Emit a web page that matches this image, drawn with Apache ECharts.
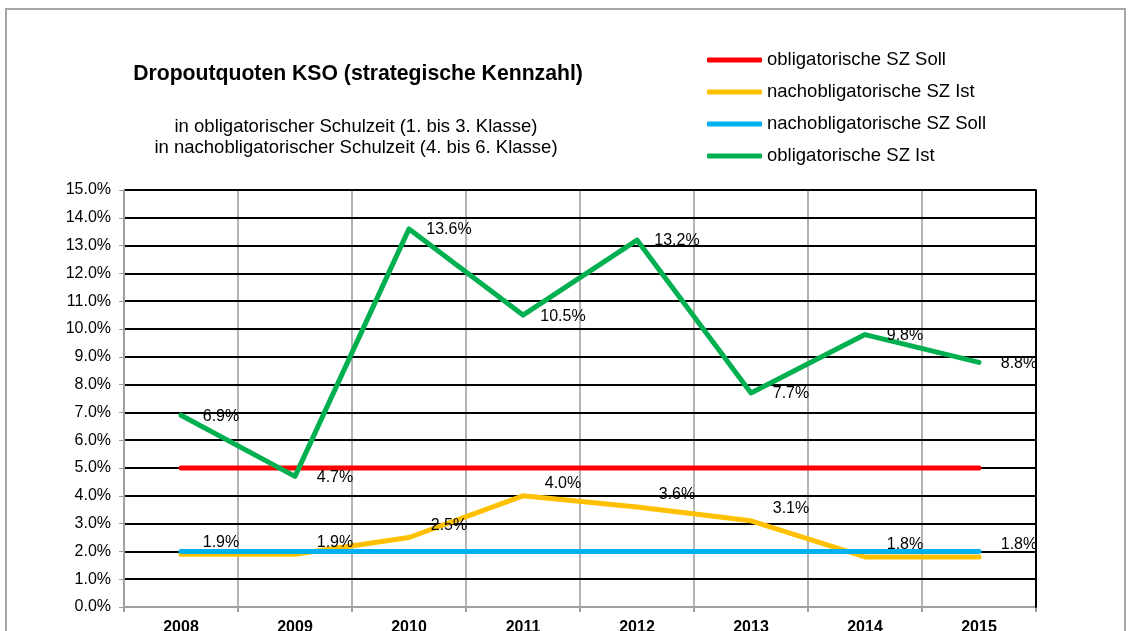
<!DOCTYPE html>
<html>
<head>
<meta charset="utf-8">
<script src="https://cdn.jsdelivr.net/npm/echarts@6/dist/echarts.min.js"></script>
<style>
html, body { margin: 0; padding: 0; background: #fff; }
#chart { width: 1129px; height: 631px; }
</style>
</head>
<body>
<div id="chart"></div>
<script>
// Daten (Prozent)
var years = ['2008', '2009', '2010', '2011', '2012', '2013', '2014', '2015'];
var oblSoll = [5.0, 5.0, 5.0, 5.0, 5.0, 5.0, 5.0, 5.0];
var nachoblIst = [1.9, 1.9, 2.5, 4.0, 3.6, 3.1, 1.8, 1.8];
var nachoblSoll = [2.0, 2.0, 2.0, 2.0, 2.0, 2.0, 2.0, 2.0];
var oblIst = [6.9, 4.7, 13.6, 10.5, 13.2, 7.7, 9.8, 8.8];

var font = '"Liberation Sans", Arial, sans-serif';
var myChart = echarts.init(document.getElementById('chart'));

function pct(v) { return v.toFixed(1) + '%'; }

function lineSeries(name, data, color, label)
{
    return {
        name: name,
        type: 'line',
        data: data,
        symbol: 'circle',
        symbolSize: 1,
        itemStyle: { color: color },
        lineStyle: { color: color, width: 5, cap: 'round', join: 'round' },
        label: label || { show: false },
        emphasis: { disabled: true },
        animation: false
    };
}

function dataLabel(offset)
{
    return {
        show: true, position: 'inside', offset: offset,
        fontFamily: font, fontSize: 16, color: '#000',
        formatter: function (p) { return pct(p.value); }
    };
}

var option = {
    backgroundColor: '#fff',
    graphic: [{
        type: 'rect',
        shape: { x: 6, y: 9, width: 1119, height: 700 },
        style: { fill: 'none', stroke: '#a6a6a6', lineWidth: 2 },
        silent: true
    }],
    title: [{
        text: 'Dropoutquoten KSO (strategische Kennzahl)',
        left: 353, top: 59, textAlign: 'center',
        textStyle: { fontFamily: font, fontSize: 21.2, fontWeight: 'bold', color: '#000' }
    }, {
        text: 'in obligatorischer Schulzeit (1. bis 3. Klasse)\nin nachobligatorischer Schulzeit (4. bis 6. Klasse)',
        left: 351, top: 111, textAlign: 'center',
        textStyle: { fontFamily: font, fontSize: 18.5, fontWeight: 'normal', color: '#000', lineHeight: 21 }
    }],
    legend: {
        orient: 'vertical',
        left: 702, top: 45,
        itemWidth: 55, itemHeight: 5,
        itemGap: 12,
        icon: 'roundRect',
        textStyle: { fontFamily: font, fontSize: 18.5, color: '#000', lineHeight: 20 },
        data: ['obligatorische SZ Soll', 'nachobligatorische SZ Ist', 'nachobligatorische SZ Soll', 'obligatorische SZ Ist']
    },
    grid: { left: 124, right: 93, top: 190, bottom: 24, outerBoundsMode: 'none', containLabel: false },
    xAxis: {
        type: 'category',
        data: years,
        boundaryGap: true,
        z: 1,
        axisLine: { lineStyle: { color: '#a0a0a0', width: 2 } },
        axisTick: { show: true, length: 5, lineStyle: { color: '#a0a0a0', width: 2 } },
        axisLabel: { fontFamily: font, fontSize: 16, fontWeight: 'bold', color: '#000', margin: 13 },
        splitLine: { show: true, lineStyle: { color: '#b4b4b4', width: 2 } }
    },
    yAxis: [{
        type: 'value',
        min: 0, max: 15, interval: 1,
        z: 2,
        axisLine: { show: true, lineStyle: { color: '#a0a0a0', width: 2 } },
        axisTick: { show: true, length: 5, lineStyle: { color: '#a0a0a0', width: 1 } },
        axisLabel: { fontFamily: font, fontSize: 16, color: '#000', margin: 13, formatter: pct },
        splitLine: { show: true, showMinLine: false, lineStyle: { color: '#000', width: 2 } }
    }, {
        type: 'value',
        position: 'right',
        min: 0, max: 15, interval: 1,
        z: 3,
        axisLine: { show: true, lineStyle: { color: '#000', width: 2 } },
        axisTick: { show: false },
        axisLabel: { show: false },
        splitLine: { show: false }
    }],
    series: [
        lineSeries('obligatorische SZ Soll', oblSoll, '#ff0000'),
        lineSeries('nachobligatorische SZ Ist', nachoblIst, '#ffc000', dataLabel([40, -12])),
        lineSeries('nachobligatorische SZ Soll', nachoblSoll, '#00b0f0'),
        lineSeries('obligatorische SZ Ist', oblIst, '#00b050', dataLabel([40, 1]))
    ]
};

myChart.setOption(option);
</script>
</body>
</html>
